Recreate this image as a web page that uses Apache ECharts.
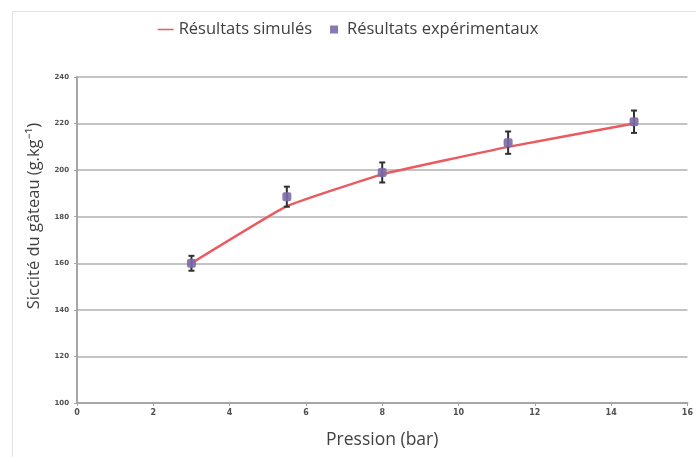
<!DOCTYPE html>
<html><head><meta charset="utf-8">
<script src="https://cdn.jsdelivr.net/npm/echarts@6/dist/echarts.min.js"></script>
<style>html,body{margin:0;padding:0;background:#fff}#c{width:696px;height:457px}
#frame{position:absolute;left:12px;top:11px;right:-2px;bottom:-2px;border:1px solid #e3e3e3;pointer-events:none}</style>
</head><body><div id="c"></div><div id="frame"></div>
<script>
const simX = [3, 5.5, 8, 11.3, 14.6];
const simY = [160, 184.5, 198.2, 210, 220];
const expX = [3, 5.5, 8, 11.3, 14.6];
const expY = [160, 188.6, 199, 211.8, 220.8];
const expErr = [3.2, 4.3, 4.3, 4.8, 4.8];
const xTicks = [0, 2, 4, 6, 8, 10, 12, 14, 16];
const yTicks = [100, 120, 140, 160, 180, 200, 220, 240];

const chart = echarts.init(document.getElementById('c'));
const errData = expX.map((x, i) => [x, expY[i] - expErr[i], expY[i] + expErr[i]]);
chart.setOption({
  animation: false,
  legend: {
    top: 16, left: 'center', itemGap: 18, itemWidth: 16, itemHeight: 8,
    textStyle: {fontFamily: 'Open Sans', fontSize: 16.5, color: '#404040'},
    data: [
      {name: 'Résultats simulés', icon: 'path://M0,4L16,4L16,5.5L0,5.5Z'},
      {name: 'Résultats expérimentaux', icon: 'path://M5,1L11,1L11,7L5,7Z', itemStyle: {color: '#7d6aa8'}}
    ]
  },
  grid: {left: 77, right: 8, top: 77, bottom: 54},
  xAxis: {
    type: 'value', min: xTicks[0], max: xTicks[xTicks.length - 1], interval: 2,
    name: 'Pression (bar)', nameLocation: 'middle', nameGap: 28,
    nameTextStyle: {fontFamily: 'Open Sans', fontSize: 17.5, color: '#404040'},
    axisLine: {lineStyle: {color: '#a6a6a6', width: 2}},
    axisTick: {show: true, length: 3, lineStyle: {color: '#a6a6a6'}},
    axisLabel: {fontSize: 8, color: '#505050', margin: 6, fontFamily: 'DejaVu Sans', fontWeight: 'bold'},
    splitLine: {show: false}
  },
  yAxis: {
    type: 'value', min: yTicks[0], max: yTicks[yTicks.length - 1], interval: 20,
    name: 'Siccité du gâteau (g.kg⁻¹)', nameLocation: 'middle', nameGap: 34, nameRotate: 90,
    nameTextStyle: {fontFamily: 'Open Sans', fontSize: 16.5, color: '#404040', padding: [0, 0, 0, 48]},
    axisLine: {show: true, lineStyle: {color: '#a6a6a6', width: 2}},
    axisTick: {show: true, length: 3, lineStyle: {color: '#a6a6a6'}},
    axisLabel: {fontSize: 7, color: '#505050', margin: 8, fontFamily: 'DejaVu Sans', fontWeight: 'bold'},
    splitLine: {lineStyle: {color: '#c4c4c4', width: 2}}
  },
  series: [
    {
      name: 'Résultats simulés', type: 'line', data: simX.map((x, i) => [x, simY[i]]),
      showSymbol: false, symbol: 'none', smooth: 0.1,
      lineStyle: {color: '#ea5a5e', width: 2.5}, itemStyle: {color: '#ea5a5e'}, z: 3
    },
    {
      name: 'errbars', type: 'custom', data: errData, z: 4,
      renderItem: function (params, api) {
        const x = api.value(0);
        const lo = api.coord([x, api.value(1)]);
        const hi = api.coord([x, api.value(2)]);
        const w = 3;
        const st = {stroke: '#2f2f2f', lineWidth: 2};
        return {type: 'group', children: [
          {type: 'line', shape: {x1: lo[0], y1: lo[1], x2: hi[0], y2: hi[1]}, style: st},
          {type: 'line', shape: {x1: lo[0] - w, y1: lo[1], x2: lo[0] + w, y2: lo[1]}, style: st},
          {type: 'line', shape: {x1: hi[0] - w, y1: hi[1], x2: hi[0] + w, y2: hi[1]}, style: st}
        ]};
      }
    },
    {
      name: 'Résultats expérimentaux', type: 'scatter', data: expX.map((x, i) => [x, expY[i]]),
      symbol: 'roundRect', symbolSize: 9, itemStyle: {color: '#7d6aa8', opacity: 0.9}, z: 5
    }
  ]
});
</script></body></html>
